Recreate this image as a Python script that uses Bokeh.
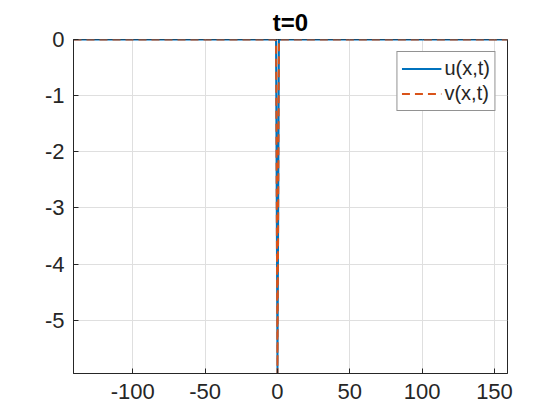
from bokeh.plotting import figure
from bokeh.models import Range1d, FixedTicker, PrintfTickFormatter
from bokeh.embed import file_html
from bokeh.resources import INLINE

# data
x_vals = [-141, -3, -2, -1, 0, 1, 2, 3, 159]
u_vals = [0, 0, 0, -0.02, -5.95, -0.02, 0, 0, 0]
v_vals = [0, 0, 0, -0.02, -5.95, -0.02, 0, 0, 0]
x_ticks = [-100, -50, 0, 50, 100, 150]
y_ticks = [-5, -4, -3, -2, -1, 0]
title_text = "t=0"
labels = ["u(x,t)", "v(x,t)"]

AX = "#262626"
FONT = "Liberation Sans"

p = figure(frame_width=434, frame_height=334,
           x_range=Range1d(-141, 159), y_range=Range1d(-5.95, 0),
           output_backend="svg", toolbar_location=None,
           min_border_left=73, min_border_right=53,
           min_border_top=39, min_border_bottom=47)
p.background_fill_color = "white"
p.border_fill_color = "white"
p.outline_line_color = AX
p.outline_line_width = 1

p.title.text = title_text
p.title.align = "center"
p.title.text_font = FONT
p.title.text_font_style = "bold"
p.title.text_font_size = "24px"
p.title.text_color = "#000000"
p.title.standoff = 8

for ax in (p.xaxis[0], p.yaxis[0]):
    ax.axis_line_color = AX
    ax.major_tick_line_color = AX
    ax.major_tick_out = 0
    ax.major_tick_in = 5
    ax.minor_tick_line_color = None
    ax.major_label_text_color = AX
    ax.major_label_text_font = FONT
    ax.major_label_text_font_size = "22px"
    ax.formatter = PrintfTickFormatter(format="%d")
p.xaxis[0].ticker = FixedTicker(ticks=x_ticks)
p.yaxis[0].ticker = FixedTicker(ticks=y_ticks)
p.xaxis[0].major_label_standoff = 10
p.yaxis[0].major_label_standoff = 9

p.xgrid.ticker = FixedTicker(ticks=x_ticks)
p.ygrid.ticker = FixedTicker(ticks=y_ticks)
p.xgrid.grid_line_color = "#DFDFDF"
p.ygrid.grid_line_color = "#DFDFDF"

p.line(x_vals, u_vals, line_color="#0072BD", line_width=2, legend_label=labels[0])
p.line(x_vals, v_vals, line_color="#D95319", line_width=2, line_dash="8 5",
       legend_label=labels[1])

lg = p.legend[0]
lg.location = "top_right"
lg.margin = 12
lg.padding = 4
lg.spacing = 0
lg.glyph_width = 40
lg.glyph_height = 25
lg.label_height = 25
lg.label_standoff = 3
lg.label_text_font = FONT
lg.label_text_font_size = "20px"
lg.label_text_color = AX
lg.border_line_color = AX
lg.border_line_width = 1
lg.background_fill_alpha = 1

open("out.html", "w").write(file_html(p, INLINE))
